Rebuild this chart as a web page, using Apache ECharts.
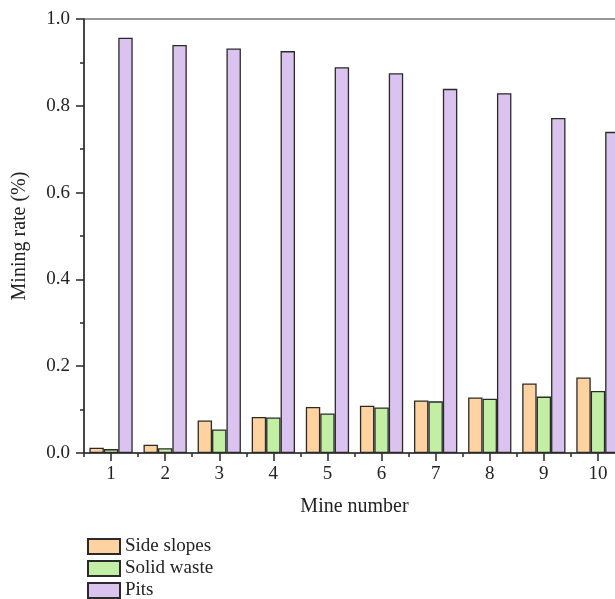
<!DOCTYPE html>
<html>
<head>
<meta charset="utf-8">
<script src="https://cdn.jsdelivr.net/npm/echarts@6/dist/echarts.min.js"></script>
<style>
  html, body { margin: 0; padding: 0; background: #fff; overflow: hidden; }
  /* the source figure is cut off on the right, so the canvas runs past the window */
  #main { width: 660px; height: 640px; }
</style>
</head>
<body>
<div id="main"></div>
<script>
// mine numbers on the x axis
var mines = ["1", "2", "3", "4", "5", "6", "7", "8", "9", "10"];
// mining rate for each type
var sideSlopes = [0.012, 0.019, 0.075, 0.083, 0.106, 0.109, 0.121, 0.128, 0.160, 0.174];
var solidWaste = [0.009, 0.011, 0.054, 0.082, 0.091, 0.105, 0.119, 0.125, 0.130, 0.143];
var pits = [0.957, 0.940, 0.932, 0.926, 0.889, 0.875, 0.839, 0.829, 0.772, 0.740];

var font = "Liberation Serif";
var ink = "#222";
var axisCol = "#333";
var tickLine = { color: axisCol, width: 1.6 };

var myChart = echarts.init(document.getElementById("main"));

function barSeries(name, data, color) {
  return {
    name: name,
    type: "bar",
    data: data,
    barGap: "0%",
    barCategoryGap: "20%",
    itemStyle: { color: color, borderColor: "#2a2a2a", borderWidth: 1.3 }
  };
}

var option = {
  animation: false,
  textStyle: { fontFamily: font },
  grid: { left: 84, top: 19, width: 541, height: 434, show: true, borderColor: axisCol, borderWidth: 1.2 },
  legend: {
    orient: "vertical",
    left: 82,
    top: 532,
    icon: "rect",
    itemWidth: 32,
    itemHeight: 15,
    itemGap: 3,
    textStyle: { fontFamily: font, fontSize: 19, color: ink },
    data: ["Side slopes", "Solid waste", "Pits"]
  },
  xAxis: [
    {
      type: "category",
      data: mines,
      name: "Mine number",
      nameLocation: "middle",
      nameGap: 44,
      nameTextStyle: { fontFamily: font, fontSize: 20, color: ink },
      axisLine: { show: true, lineStyle: { color: axisCol, width: 1.5 } },
      axisTick: { show: false },
      axisLabel: { fontFamily: font, fontSize: 19, color: ink, margin: 12 }
    },
    {
      // ticks under each mine number
      type: "category",
      data: mines,
      position: "bottom",
      axisLine: { show: false },
      axisTick: { show: true, alignWithLabel: true, length: 8, lineStyle: tickLine },
      axisLabel: { show: false }
    },
    {
      // short ticks between groups
      type: "category",
      data: mines,
      position: "bottom",
      axisLine: { show: false },
      axisTick: { show: true, length: 4, lineStyle: tickLine },
      axisLabel: { show: false }
    }
  ],
  yAxis: [
    {
      type: "value",
      min: 0,
      max: 1,
      interval: 0.2,
      name: "Mining rate (%)",
      nameLocation: "middle",
      nameGap: 54,
      nameTextStyle: { fontFamily: font, fontSize: 20, color: ink },
      axisLine: { show: true, lineStyle: { color: axisCol, width: 1.5 } },
      axisTick: { show: false },
      splitLine: { show: false },
      axisLabel: {
        fontFamily: font, fontSize: 19, color: ink, margin: 14,
        formatter: function (v) { return v.toFixed(1); }
      }
    },
    {
      // tick marks only
      type: "value",
      min: 0,
      max: 1,
      interval: 0.2,
      position: "left",
      axisLine: { show: false },
      axisTick: { show: true, length: 8, lineStyle: tickLine },
      minorTick: { show: true, splitNumber: 2, length: 4, lineStyle: tickLine },
      splitLine: { show: false },
      axisLabel: { show: false }
    }
  ],
  series: [
    barSeries("Side slopes", sideSlopes, "#FFD39F"),
    barSeries("Solid waste", solidWaste, "#C3EFA4"),
    barSeries("Pits", pits, "#DAC3EE")
  ]
};

myChart.setOption(option);
</script>
</body>
</html>
